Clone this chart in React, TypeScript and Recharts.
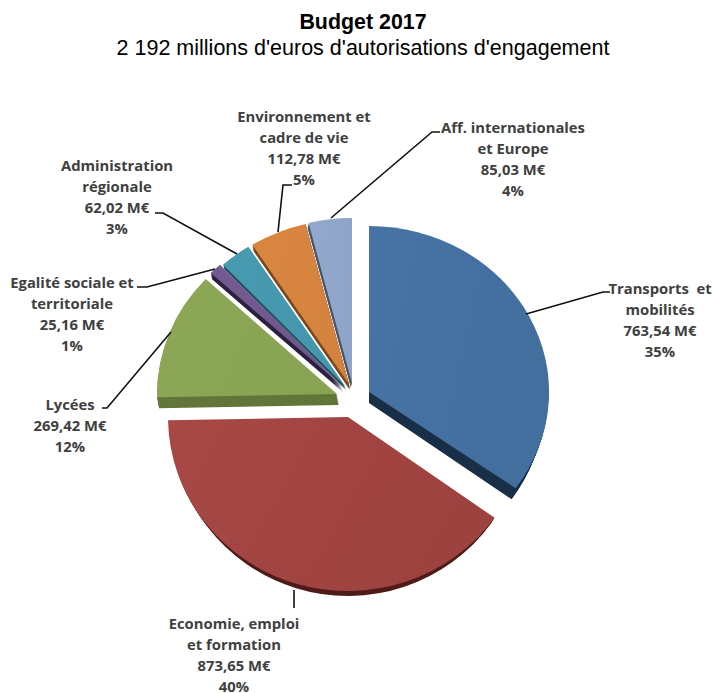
import React from "react";
import { PieChart, Pie, Sector } from "recharts";

// Listed anticlockwise from 12 o'clock so that slices paint back-to-front.
const names = ["Aff", "Env", "Admin", "Egalite", "Lycees", "Eco", "Transports"];
const values = [85.03, 112.78, 62.02, 25.16, 269.42, 873.65, 763.54];
const lightColors = ["#93A8CD", "#D88640", "#479AB0", "#735A91", "#8CA856", "#A74845", "#4773A5"];
const darkColors = ["#8FA4C9", "#D4823E", "#4396AC", "#6F568D", "#88A452", "#9E423F", "#436F9F"];
const sideColors = ["#4a5568", "#7c4a1c", "#22505e", "#2c2240", "#62763a", "#4f1c1a", "#1a2f48"];
const labelLines = [
  ["Aff. internationales", "et Europe", "85,03 M€", "4%"],
  ["Environnement et", "cadre de vie", "112,78 M€", "5%"],
  ["Administration", "régionale", "62,02 M€", "3%"],
  ["Egalité sociale et", "territoriale", "25,16 M€", "1%"],
  ["Lycées", "269,42 M€", "12%"],
  ["Economie, emploi", "et formation", "873,65 M€", "40%"],
  ["Transports \u00a0et", "mobilités", "763,54 M€", "35%"],
];

// Layout
const CX = 345, CY = 390, RX = 180;
const apexes = [[352, 383], [349, 384], [345, 386], [342, 386], [337, 394], [348, 417], [369, 392]];
const radiiY = [165, 165, 165, 165, 168, 174, 166];
const depths = [[-1, 5], [1, 6], [1, 4], [1, 6], [2, 11], [0, 5], [0, 11]];
const sideRadiiX = [180, 180, 180, 180, 180, 176, 175];
const labelPos = [[513, 127], [304, 116], [117, 165], [72, 282], [70, 404], [234, 623], [660, 288]];
const leaders = [
  "331,218 432,132 440,132",
  "278,232 283,185 292,185",
  "237,254 163,213 155,213",
  "215,269 147,287 137,287",
  "171,332 107,408 102,408",
  "294,590 294,608",
  "526,314 603,292 610,292",
];

const tableData = names.map((name, i) => ({ name, value: values[i] }));

function Slice(props: any) {
  const i = names.indexOf(props.payload?.name ?? props.name);
  const [ax, ay] = apexes[i];
  const [dx, dy] = depths[i];
  const steps = Math.max(Math.abs(dx), Math.abs(dy));
  const ry = radiiY[i];
  const s = { cx: 0, cy: 0, innerRadius: 0, outerRadius: props.outerRadius, startAngle: props.startAngle, endAngle: props.endAngle };
  const layers = [];
  for (let k = steps; k >= 1; k--) {
    const t = k / steps;
    const sx = (RX + (sideRadiiX[i] - RX) * t) / RX;
    layers.push(
      <g key={k} transform={`translate(${ax + dx * t},${ay + dy * t}) scale(${sx},${ry / RX})`}>
        <Sector {...s} fill={sideColors[i]} stroke="none" />
      </g>
    );
  }
  const gradId = `slice-fill-${i}`;
  return (
    <g>
      <defs>
        <linearGradient id={gradId} x1="0" y1="0" x2="1" y2="0.3">
          <stop offset="0" stopColor={lightColors[i]} />
          <stop offset="1" stopColor={darkColors[i]} />
        </linearGradient>
      </defs>
      {layers}
      <g transform={`translate(${ax},${ay}) scale(1,${ry / RX})`}>
        <Sector {...s} fill={`url(#${gradId})`} stroke="none" />
      </g>
    </g>
  );
}

function SliceLabel(props: any) {
  const i = props.index;
  const [x, y] = labelPos[i];
  const lh = 21;
  return (
    <g>
      <polyline points={leaders[i]} fill="none" stroke="#111" strokeWidth={1.6} />
      {labelLines[i].map((t, k) => (
        <text
          key={k}
          x={x}
          y={y + k * lh}
          textAnchor="middle"
          dominantBaseline="central"
          fontFamily="'Open Sans', sans-serif"
          fontWeight={700}
          fontSize={14.8}
          fill="#404040"
        >
          {t}
        </text>
      ))}
    </g>
  );
}

export default function App() {
  return (
    <div style={{ position: "absolute", left: 0, top: 0, width: 714, height: 693, background: "#fff" }}>
      <PieChart width={714} height={693} margin={{ top: 0, right: 0, bottom: 0, left: 0 }}>
        <text x={363} y={29} textAnchor="middle" fontFamily="'Liberation Sans', Arial, sans-serif" fontWeight={700} fontSize={21.4} fill="#000">
          Budget 2017
        </text>
        <text x={363} y={55} textAnchor="middle" fontFamily="'Liberation Sans', Arial, sans-serif" fontSize={21.5} fill="#000">
          2 192 millions d'euros d'autorisations d'engagement
        </text>
        <Pie
          data={tableData}
          dataKey="value"
          nameKey="name"
          cx={CX}
          cy={CY}
          innerRadius={0}
          outerRadius={RX}
          startAngle={-270}
          endAngle={90}
          paddingAngle={0}
          stroke="none"
          isAnimationActive={false}
          shape={Slice}
          label={SliceLabel}
          labelLine={false}
        />
      </PieChart>
    </div>
  );
}
